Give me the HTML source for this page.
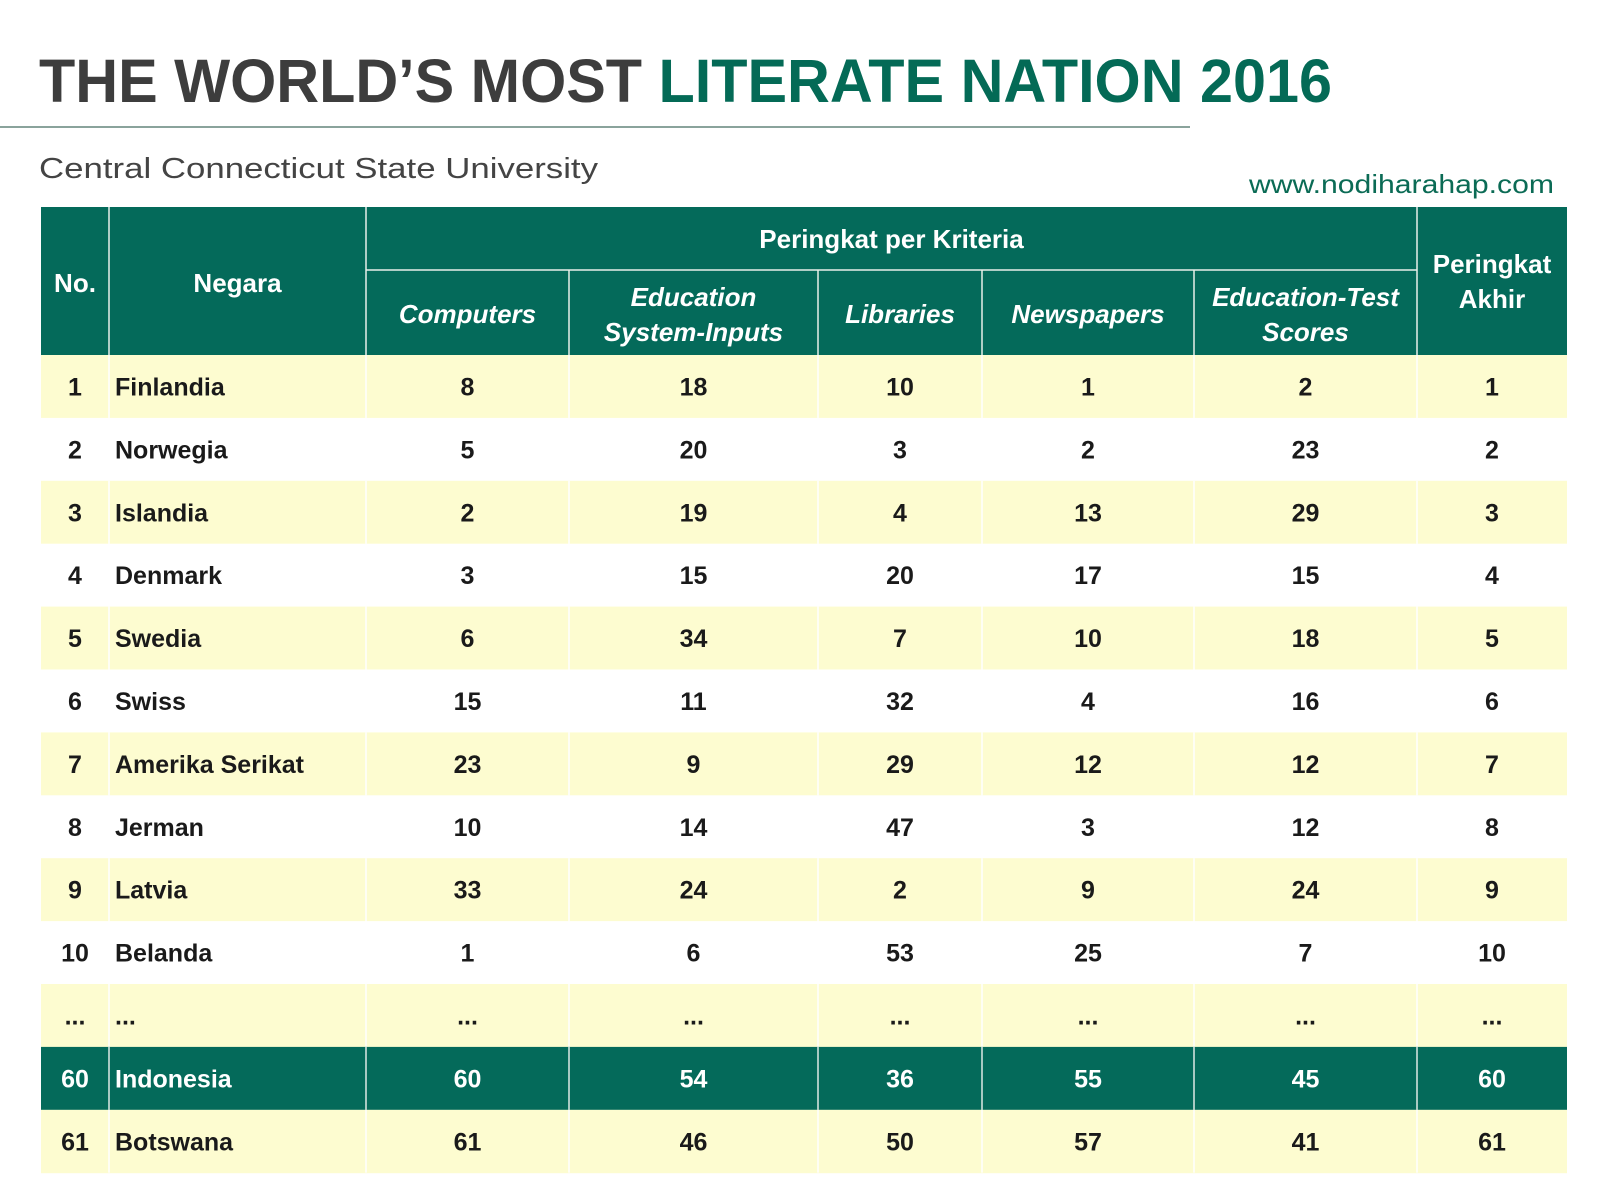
<!DOCTYPE html>
<html><head><meta charset="utf-8"><style>
html,body{margin:0;padding:0;background:#fff}
svg{display:block}
text{font-family:"Liberation Sans",sans-serif}
</style></head><body>
<svg id="chart" width="1600" height="1200" viewBox="0 0 1600 1200">
<rect width="1600" height="1200" fill="#fff"/>
<text x="39" y="102" font-size="61" font-weight="bold" textLength="1293" lengthAdjust="spacingAndGlyphs"><tspan fill="#3d3d3d">THE WORLD’S MOST </tspan><tspan fill="#046a56">LITERATE NATION 2016</tspan></text>
<line x1="0" y1="127" x2="1190" y2="127" stroke="#8aa39c" stroke-width="2"/>
<text x="39" y="178" font-size="29" fill="#444" textLength="559" lengthAdjust="spacingAndGlyphs">Central Connecticut State University</text>
<text x="1554" y="193" font-size="26" fill="#0b6b55" text-anchor="end" textLength="305" lengthAdjust="spacingAndGlyphs">www.nodiharahap.com</text>
<g id="tbl"></g>
</svg>
<script>
const countries=["Finlandia","Norwegia","Islandia","Denmark","Swedia","Swiss","Amerika Serikat","Jerman","Latvia","Belanda","...","Indonesia","Botswana"];
const ranks=["1","2","3","4","5","6","7","8","9","10","...","60","61"];
const computers=["8","5","2","3","6","15","23","10","33","1","...","60","61"];
const eduInputs=["18","20","19","15","34","11","9","14","24","6","...","54","46"];
const libraries=["10","3","4","20","7","32","29","47","2","53","...","36","50"];
const newspapers=["1","2","13","17","10","4","12","3","9","25","...","55","57"];
const testScores=["2","23","29","15","18","16","12","12","24","7","...","45","41"];
const finalRank=["1","2","3","4","5","6","7","8","9","10","...","60","61"];
const subHeaders=[["Computers"],["Education","System-Inputs"],["Libraries"],["Newspapers"],["Education-Test","Scores"]];

const NS="http://www.w3.org/2000/svg";
const g=document.getElementById('tbl');
const colX=[41,109,366,569,818,982,1194,1417,1567];
const top0=207,mid=270,hb=355,rowH=62.9;
const G="#046a5a",Y="#fdfcd0";
function mk(tag,attrs,txt){const e=document.createElementNS(NS,tag);for(const k in attrs)e.setAttribute(k,attrs[k]);if(txt!==undefined)e.textContent=txt;g.appendChild(e);return e;}
// header
const hdr=mk('rect',{x:colX[0],y:top0,width:colX[8]-colX[0],height:hb-top0,fill:G});


function line(x1,y1,x2,y2,name){const l=mk('line',{x1,y1,x2,y2,stroke:'#e8efe9','stroke-width':1.5});

}
line(colX[2],mid,colX[7],mid,'header-divider');
[1,2,7].forEach(i=>line(colX[i],top0,colX[i],hb,'header-column-divider'));
[3,4,5,6].forEach(i=>line(colX[i],mid,colX[i],hb,'header-column-divider'));
function ht(x,y,s,name,it){const t=mk('text',{x,y,'text-anchor':'middle','font-size':26,'font-weight':'bold',fill:'#fff','font-style':it?'italic':'normal'},s);

}
ht((colX[0]+colX[1])/2,292,"No.",'header-no');
ht((colX[1]+colX[2])/2,292,"Negara",'header-negara');
ht((colX[2]+colX[7])/2,248,"Peringkat per Kriteria",'header-criteria');
ht((colX[7]+colX[8])/2,273,"Peringkat",'header-final');
ht((colX[7]+colX[8])/2,308,"Akhir",'header-final');
subHeaders.forEach((lines,i)=>{const cx=(colX[i+2]+colX[i+3])/2;
 if(lines.length===1)ht(cx,323,lines[0],'subheader',true);
 else{ht(cx,306,lines[0],'subheader',true);ht(cx,341,lines[1],'subheader',true);}});
// body
const cols=[computers,eduInputs,libraries,newspapers,testScores,finalRank];
countries.forEach((c,r)=>{
 const y=hb+r*rowH;const hl=c==="Indonesia";
 const bg=hl?G:(r%2===0?Y:"#fff");
 const rr=mk('rect',{x:colX[0],y:y,width:colX[8]-colX[0],height:rowH+0.5,fill:bg});
 
 
 for(let i=1;i<8;i++){const l=mk('line',{x1:colX[i],y1:y,x2:colX[i],y2:y+rowH,stroke:hl?'#dfe9e4':'#ffffff','stroke-width':1.5});
  
  }
 const fc=hl?"#fff":"#1a1a1a";const ty=y+rowH/2+9;
 const a=mk('text',{x:(colX[0]+colX[1])/2,y:ty,'text-anchor':'middle','font-size':25,'font-weight':'bold',fill:fc},ranks[r]);
 
 
 const b=mk('text',{x:colX[1]+6,y:ty,'font-size':25,'font-weight':'bold',fill:fc},c);
 
 
 cols.forEach((arr,i)=>{const t=mk('text',{x:(colX[i+2]+colX[i+3])/2,y:ty,'text-anchor':'middle','font-size':25,'font-weight':'bold',fill:fc},arr[r]);
  
  });
});
</script>
</body></html>
